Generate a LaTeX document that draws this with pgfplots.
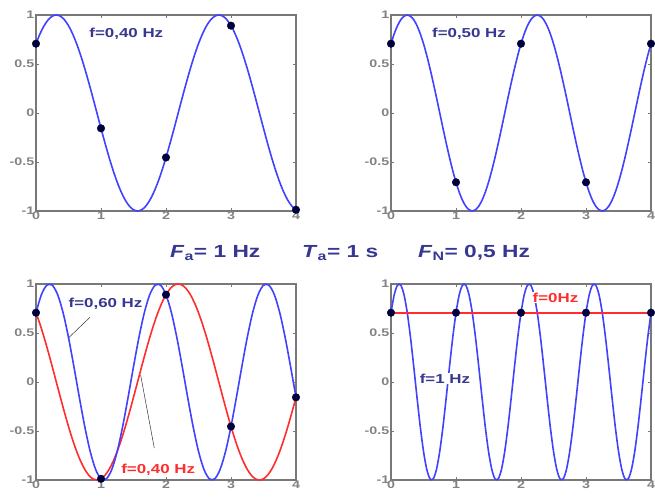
\documentclass[border=0pt]{standalone}
\usepackage{fontspec}
\setmainfont{Liberation Sans}[FakeStretch=1.3]
\usepackage{pgfplots}
\pgfplotsset{compat=1.18}
\definecolor{navy}{RGB}{55,55,145}
\definecolor{cblue}{RGB}{65,65,255}
\definecolor{cred}{RGB}{255,45,45}
\definecolor{cdot}{RGB}{0,0,60}
\definecolor{fgray}{RGB}{120,120,120}
\definecolor{tgray}{RGB}{130,130,130}
\pgfplotsset{myax/.style={
  scale only axis, width=260pt, height=196pt,
  xmin=0,xmax=4,ymin=-1,ymax=1,
  xtick={0,1,2,3,4}, xticklabels={0,1,2,3,4},
  ytick={-1,-0.5,0,0.5,1}, yticklabels={-1,-0.5,0,0.5,1},
  axis line style={fgray, line width=1.3pt},
  tick style={fgray, line width=0.6pt}, major tick length=3pt,
  tick align=inside,
  ticklabel style={font=\fontsize{11}{11}\selectfont\bfseries, text=tgray},
  xticklabel style={inner sep=1pt},
  yticklabel style={inner sep=1.5pt},
  clip=false, anchor=south west},
  curve/.style={line width=1.6pt, smooth, no markers},
  dots/.style={only marks, mark=*, mark size=3.8pt, color=cdot}
}
\tikzset{lab/.style={font=\fontsize{13}{13}\selectfont\bfseries, inner sep=1pt}}
\begin{document}
\begin{tikzpicture}
\path[use as bounding box] (0,0) rectangle (655pt,500pt);
% top left
\begin{axis}[myax, at={(36pt,289pt)}]
\addplot[curve, cblue] coordinates {(0,0.7071)(0.0625,0.8090)(0.125,0.8910)(0.1875,0.9511)(0.25,0.9877)(0.3125,1)(0.375,0.9877)(0.4375,0.9511)(0.5,0.8910)(0.5625,0.8090)(0.625,0.7071)(0.6875,0.5878)(0.75,0.4540)(0.8125,0.3090)(0.875,0.1564)(0.9375,0)(1,-0.1564)(1.0625,-0.3090)(1.125,-0.4540)(1.1875,-0.5878)(1.25,-0.7071)(1.3125,-0.8090)(1.375,-0.8910)(1.4375,-0.9511)(1.5,-0.9877)(1.5625,-1)(1.625,-0.9877)(1.6875,-0.9511)(1.75,-0.8910)(1.8125,-0.8090)(1.875,-0.7071)(1.9375,-0.5878)(2,-0.4540)(2.0625,-0.3090)(2.125,-0.1564)(2.1875,0)(2.25,0.1564)(2.3125,0.3090)(2.375,0.4540)(2.4375,0.5878)(2.5,0.7071)(2.5625,0.8090)(2.625,0.8910)(2.6875,0.9511)(2.75,0.9877)(2.8125,1)(2.875,0.9877)(2.9375,0.9511)(3,0.8910)(3.0625,0.8090)(3.125,0.7071)(3.1875,0.5878)(3.25,0.4540)(3.3125,0.3090)(3.375,0.1564)(3.4375,0)(3.5,-0.1564)(3.5625,-0.3090)(3.625,-0.4540)(3.6875,-0.5878)(3.75,-0.7071)(3.8125,-0.8090)(3.875,-0.8910)(3.9375,-0.9511)(4,-0.9877)};
\addplot[dots] coordinates {(0,0.7071)(1,-0.1564)(2,-0.4540)(3,0.8910)(4,-0.9877)};
\node[lab, text=navy] at (axis cs:1.39,0.81) {f=0,40 Hz};
\end{axis}
% top right
\begin{axis}[myax, at={(391pt,289pt)}]
\addplot[curve, cblue] coordinates {(0,0.7071)(0.05,0.8090)(0.1,0.8910)(0.15,0.9511)(0.2,0.9877)(0.25,1)(0.3,0.9877)(0.35,0.9511)(0.4,0.8910)(0.45,0.8090)(0.5,0.7071)(0.55,0.5878)(0.6,0.4540)(0.65,0.3090)(0.7,0.1564)(0.75,0)(0.8,-0.1564)(0.85,-0.3090)(0.9,-0.4540)(0.95,-0.5878)(1,-0.7071)(1.05,-0.8090)(1.1,-0.8910)(1.15,-0.9511)(1.2,-0.9877)(1.25,-1)(1.3,-0.9877)(1.35,-0.9511)(1.4,-0.8910)(1.45,-0.8090)(1.5,-0.7071)(1.55,-0.5878)(1.6,-0.4540)(1.65,-0.3090)(1.7,-0.1564)(1.75,0)(1.8,0.1564)(1.85,0.3090)(1.9,0.4540)(1.95,0.5878)(2,0.7071)(2.05,0.8090)(2.1,0.8910)(2.15,0.9511)(2.2,0.9877)(2.25,1)(2.3,0.9877)(2.35,0.9511)(2.4,0.8910)(2.45,0.8090)(2.5,0.7071)(2.55,0.5878)(2.6,0.4540)(2.65,0.3090)(2.7,0.1564)(2.75,0)(2.8,-0.1564)(2.85,-0.3090)(2.9,-0.4540)(2.95,-0.5878)(3,-0.7071)(3.05,-0.8090)(3.1,-0.8910)(3.15,-0.9511)(3.2,-0.9877)(3.25,-1)(3.3,-0.9877)(3.35,-0.9511)(3.4,-0.8910)(3.45,-0.8090)(3.5,-0.7071)(3.55,-0.5878)(3.6,-0.4540)(3.65,-0.3090)(3.7,-0.1564)(3.75,0)(3.8,0.1564)(3.85,0.3090)(3.9,0.4540)(3.95,0.5878)(4,0.7071)};
\addplot[dots] coordinates {(0,0.7071)(1,-0.7071)(2,0.7071)(3,-0.7071)(4,0.7071)};
\node[lab, text=navy] at (axis cs:1.2,0.81) {f=0,50 Hz};
\end{axis}
% bottom left
\begin{axis}[myax, at={(36pt,20pt)}]
\addplot[curve, cred] coordinates {(0,0.7071)(0.0625,0.5878)(0.125,0.4540)(0.1875,0.3090)(0.25,0.1564)(0.3125,0)(0.375,-0.1564)(0.4375,-0.3090)(0.5,-0.4540)(0.5625,-0.5878)(0.625,-0.7071)(0.6875,-0.8090)(0.75,-0.8910)(0.8125,-0.9511)(0.875,-0.9877)(0.9375,-1)(1,-0.9877)(1.0625,-0.9511)(1.125,-0.8910)(1.1875,-0.8090)(1.25,-0.7071)(1.3125,-0.5878)(1.375,-0.4540)(1.4375,-0.3090)(1.5,-0.1564)(1.5625,0)(1.625,0.1564)(1.6875,0.3090)(1.75,0.4540)(1.8125,0.5878)(1.875,0.7071)(1.9375,0.8090)(2,0.8910)(2.0625,0.9511)(2.125,0.9877)(2.1875,1)(2.25,0.9877)(2.3125,0.9511)(2.375,0.8910)(2.4375,0.8090)(2.5,0.7071)(2.5625,0.5878)(2.625,0.4540)(2.6875,0.3090)(2.75,0.1564)(2.8125,0)(2.875,-0.1564)(2.9375,-0.3090)(3,-0.4540)(3.0625,-0.5878)(3.125,-0.7071)(3.1875,-0.8090)(3.25,-0.8910)(3.3125,-0.9511)(3.375,-0.9877)(3.4375,-1)(3.5,-0.9877)(3.5625,-0.9511)(3.625,-0.8910)(3.6875,-0.8090)(3.75,-0.7071)(3.8125,-0.5878)(3.875,-0.4540)(3.9375,-0.3090)(4,-0.1564)};
\addplot[curve, cblue] coordinates {(0,0.7071)(0.0833,0.8910)(0.1667,0.9877)(0.25,0.9877)(0.3333,0.8910)(0.4167,0.7071)(0.5,0.4540)(0.5833,0.1564)(0.6667,-0.1564)(0.75,-0.4540)(0.8333,-0.7071)(0.9167,-0.8910)(1,-0.9877)(1.0833,-0.9877)(1.1667,-0.8910)(1.25,-0.7071)(1.3333,-0.4540)(1.4167,-0.1564)(1.5,0.1564)(1.5833,0.4540)(1.6667,0.7071)(1.75,0.8910)(1.8333,0.9877)(1.9167,0.9877)(2,0.8910)(2.0833,0.7071)(2.1667,0.4540)(2.25,0.1564)(2.3333,-0.1564)(2.4167,-0.4540)(2.5,-0.7071)(2.5833,-0.8910)(2.6667,-0.9877)(2.75,-0.9877)(2.8333,-0.8910)(2.9167,-0.7071)(3,-0.4540)(3.0833,-0.1564)(3.1667,0.1564)(3.25,0.4540)(3.3333,0.7071)(3.4167,0.8910)(3.5,0.9877)(3.5833,0.9877)(3.6667,0.8910)(3.75,0.7071)(3.8333,0.4540)(3.9167,0.1564)(4,-0.1564)};
\addplot[dots] coordinates {(0,0.7071)(1,-0.9877)(2,0.8910)(3,-0.4540)(4,-0.1564)};
\draw[black!80, line width=0.5pt] (axis cs:0.83,0.66) -- (axis cs:0.5,0.45);
\draw[black!80, line width=0.5pt] (axis cs:1.82,-0.675) -- (axis cs:1.61,0.07);
\node[lab, text=navy] at (axis cs:1.07,0.80) {f=0,60 Hz};
\node[lab, text=cred] at (axis cs:1.88,-0.90) {f=0,40 Hz};
\end{axis}
% bottom right
\begin{axis}[myax, at={(391pt,20pt)}]
\addplot[curve, cblue] coordinates {(0,0.7071)(0.05,0.8910)(0.1,0.9877)(0.15,0.9877)(0.2,0.8910)(0.25,0.7071)(0.3,0.4540)(0.35,0.1564)(0.4,-0.1564)(0.45,-0.4540)(0.5,-0.7071)(0.55,-0.8910)(0.6,-0.9877)(0.65,-0.9877)(0.7,-0.8910)(0.75,-0.7071)(0.8,-0.4540)(0.85,-0.1564)(0.9,0.1564)(0.95,0.4540)(1,0.7071)(1.05,0.8910)(1.1,0.9877)(1.15,0.9877)(1.2,0.8910)(1.25,0.7071)(1.3,0.4540)(1.35,0.1564)(1.4,-0.1564)(1.45,-0.4540)(1.5,-0.7071)(1.55,-0.8910)(1.6,-0.9877)(1.65,-0.9877)(1.7,-0.8910)(1.75,-0.7071)(1.8,-0.4540)(1.85,-0.1564)(1.9,0.1564)(1.95,0.4540)(2,0.7071)(2.05,0.8910)(2.1,0.9877)(2.15,0.9877)(2.2,0.8910)(2.25,0.7071)(2.3,0.4540)(2.35,0.1564)(2.4,-0.1564)(2.45,-0.4540)(2.5,-0.7071)(2.55,-0.8910)(2.6,-0.9877)(2.65,-0.9877)(2.7,-0.8910)(2.75,-0.7071)(2.8,-0.4540)(2.85,-0.1564)(2.9,0.1564)(2.95,0.4540)(3,0.7071)(3.05,0.8910)(3.1,0.9877)(3.15,0.9877)(3.2,0.8910)(3.25,0.7071)(3.3,0.4540)(3.35,0.1564)(3.4,-0.1564)(3.45,-0.4540)(3.5,-0.7071)(3.55,-0.8910)(3.6,-0.9877)(3.65,-0.9877)(3.7,-0.8910)(3.75,-0.7071)(3.8,-0.4540)(3.85,-0.1564)(3.9,0.1564)(3.95,0.4540)(4,0.7071)};
\node[lab, text=cred, fill=white] at (axis cs:2.53,0.86) {f=0Hz};
\addplot[line width=1.6pt, cred, no markers] coordinates {(0,0.7071)(4,0.7071)};
\addplot[dots] coordinates {(0,0.7071)(1,0.7071)(2,0.7071)(3,0.7071)(4,0.7071)};
\node[lab, text=navy, fill=white] at (axis cs:0.83,0.035) {f=1 Hz};
\end{axis}
% centre text
\begin{scope}[every node/.style={anchor=base west, text=navy, inner sep=0pt, font=\fontsize{17.5}{17.5}\selectfont\bfseries}]
\node at (170pt,242pt) {\textit{F}\textsubscript{a}= 1 Hz};
\node at (302pt,242pt) {\textit{T}\textsubscript{a}= 1 s};
\node at (418pt,242pt) {\textit{F}\textsubscript{N}= 0,5 Hz};
\end{scope}
\end{tikzpicture}
\end{document}
